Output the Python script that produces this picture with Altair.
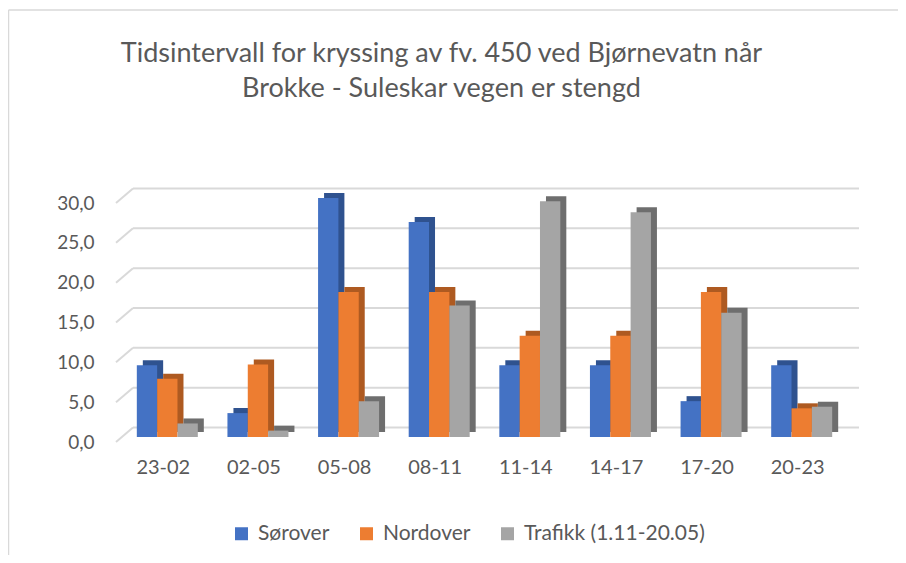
import altair as alt
import pandas as pd

categories = ["23-02", "02-05", "05-08", "08-11", "11-14", "14-17", "17-20", "20-23"]
series_names = ["Sørover", "Nordover", "Trafikk (1.11-20.05)"]
sorover = [9.0, 3.0, 30.0, 27.0, 9.0, 9.0, 4.5, 9.0]
nordover = [7.3, 9.1, 18.2, 18.2, 12.7, 12.7, 18.2, 3.6]
trafikk = [1.7, 0.8, 4.5, 16.5, 29.6, 28.2, 15.6, 3.8]
y_ticks = [0, 5, 10, 15, 20, 25, 30]

front_colors = ["#4472C4", "#ED7D31", "#A5A5A5"]
dark_colors = ["#2F528F", "#AE5A21", "#6E6E6E"]

rows = []
for s, vals in zip(series_names, [sorover, nordover, trafikk]):
    for c, v in zip(categories, vals):
        rows.append({"kategori": c, "serie": s, "verdi": v})
df = pd.DataFrame(rows)
grid_df = pd.DataFrame({"v": y_ticks})

FONT = "Lato"
TXT = "#595959"
W, H = 725, 239
yscale = alt.Scale(domain=[0, 30], nice=False)
yaxis = alt.Axis(values=y_ticks, grid=False, domain=False, ticks=False,
                 labelExpr="replace(format(datum.value, '.1f'), '.', ',')",
                 labelFont=FONT, labelFontSize=19, labelColor=TXT,
                 labelPadding=28, labelOffset=5, labelOverlap=False, title=None)

border = alt.Chart(grid_df.head(1)).mark_rule(color="#D9D9D9", strokeWidth=1.5).encode(
    x=alt.value(-113.5), y=alt.value(-188), y2=alt.value(370)
)
border_top = alt.Chart(grid_df.head(1)).mark_rule(color="#D9D9D9", strokeWidth=1.5).encode(
    x=alt.value(-113.5), x2=alt.value(790), y=alt.value(-188)
)

grid = alt.Chart(grid_df).mark_rule(color="#D9D9D9", strokeWidth=2, yOffset=-9.5).encode(
    y=alt.Y("v:Q", scale=yscale, axis=yaxis),
    x=alt.value(11), x2=alt.value(737),
)
diag = alt.Chart(grid_df).mark_rule(color="#D9D9D9", strokeWidth=2, yOffset=5, y2Offset=-9.5).encode(
    y=alt.Y("v:Q", scale=yscale, axis=yaxis),
    y2=alt.Y2("v"),
    x=alt.value(-6), x2=alt.value(11),
)

xenc = alt.X("kategori:N", sort=categories,
             scale=alt.Scale(paddingInner=0.327, paddingOuter=0.1635),
             axis=alt.Axis(domain=False, ticks=False, grid=False, labelAngle=0, labelFont=FONT,
                           labelFontSize=20, labelColor=TXT, labelPadding=20, labelOffset=-4),
             title=None)

dark = alt.Chart(df).mark_bar(yOffset=-5, y2Offset=-5).encode(
    x=xenc,
    xOffset=alt.XOffset("serie:N", sort=series_names,
                        scale=alt.Scale(range=[6, 67], paddingInner=0, paddingOuter=0)),
    y=alt.Y("verdi:Q", scale=yscale, axis=yaxis),
    color=alt.Color("serie:N", sort=series_names,
                    scale=alt.Scale(domain=series_names, range=dark_colors), legend=None),
)
front = alt.Chart(df).mark_bar().encode(
    x=xenc,
    xOffset=alt.XOffset("serie:N", sort=series_names,
                        scale=alt.Scale(range=[0, 61], paddingInner=0, paddingOuter=0)),
    y=alt.Y("verdi:Q", scale=yscale, axis=yaxis),
    color=alt.Color("serie:N", sort=series_names,
                    scale=alt.Scale(domain=series_names, range=front_colors),
                    legend=alt.Legend(title=None, orient="none", direction="horizontal",
                                      legendX=109, legendY=325, symbolType="square",
                                      symbolSize=169, symbolStrokeWidth=0, labelFont=FONT,
                                      labelFontSize=21, labelColor=TXT, labelOffset=6,
                                      columnPadding=26, padding=0, labelLimit=0)),
)

chart = alt.layer(border, border_top, grid, diag, dark, front).resolve_scale(
    color="independent", xOffset="independent"
).properties(
    width=W, height=H,
    autosize=alt.AutoSizeParams(type="none"),
    padding={"left": 114, "top": 190, "right": 51, "bottom": 118},
    title=alt.TitleParams(
        text=["Tidsintervall for kryssing av fv. 450 ved Bjørnevatn når",
              "Brokke - Suleskar vegen er stengd"],
        font=FONT, fontSize=27, fontWeight="normal", color=TXT,
        anchor="middle", dx=-43, offset=-94, lineHeight=35,
    ),
).configure(background="white").configure_view(stroke=None)

chart.save("out.html", embed_options={"renderer": "svg", "actions": False})
